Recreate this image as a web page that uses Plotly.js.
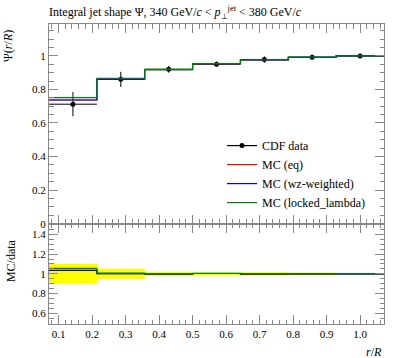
<!DOCTYPE html>
<html>
<head>
<meta charset="utf-8">
<script src="https://cdn.plot.ly/plotly-3.0.1.min.js"></script>
<style>html,body{margin:0;padding:0;background:#fff;}#plot{width:397px;height:358px;}</style>
</head>
<body>
<div id="plot"></div>
<script>
// Bin edges and centres in r/R
const binEdges = [0.0714, 0.2143, 0.3571, 0.5, 0.6429, 0.7857, 0.9286, 1.0714];
const binCenters = [0.1429, 0.2857, 0.4286, 0.5714, 0.7143, 0.8571, 1.0];
// CDF data
const dataPsi = [0.712, 0.860, 0.920, 0.950, 0.978, 0.992, 1.0];
const dataErr = [0.072, 0.045, 0.020, 0.016, 0.019, 0.014, 0.0];
// MC predictions
const mcEq = [0.737, 0.862, 0.918, 0.953, 0.976, 0.991, 1.0];
const mcWz = [0.737, 0.862, 0.918, 0.953, 0.976, 0.991, 1.0];
const mcLocked = [0.751, 0.866, 0.919, 0.954, 0.977, 0.992, 1.0];
// labels
const seriesNames = ["CDF data", "MC (eq)", "MC (wz-weighted)", "MC (locked_lambda)"];
const seriesColors = ["black", "red", "blue", "green"];

const FONT = "Liberation Serif";
const stepY = v => v.concat([v[v.length - 1]]);
const halfW = binCenters.map((c, i) => binEdges[i + 1] - c);

const traces = [];
// ratio band (data uncertainty)
const bandLo = dataPsi.map((d, i) => 1 - dataErr[i] / d);
const bandHi = dataPsi.map((d, i) => 1 + dataErr[i] / d);
traces.push({x: binEdges, y: stepY(bandLo), xaxis: 'x2', yaxis: 'y2', mode: 'lines',
  line: {shape: 'hv', width: 0, color: 'yellow'}, showlegend: false, hoverinfo: 'skip'});
traces.push({x: binEdges, y: stepY(bandHi), xaxis: 'x2', yaxis: 'y2', mode: 'lines', fill: 'tonexty',
  fillcolor: 'rgb(255,255,0)', line: {shape: 'hv', width: 0, color: 'yellow'}, showlegend: false, hoverinfo: 'skip'});

// data points (drawn under the MC lines)
traces.push({x: binCenters, y: dataPsi, mode: 'markers', name: seriesNames[0], showlegend: false,
  marker: {color: 'black', size: 5},
  error_y: {type: 'data', array: dataErr, color: 'black', thickness: 1, width: 0},
  error_x: {type: 'data', array: halfW, color: 'black', thickness: 1, width: 0},
  xaxis: 'x', yaxis: 'y'});
// legend entry for the data (line + dot)
traces.push({x: [null], y: [null], mode: 'lines+markers', name: seriesNames[0],
  line: {color: 'black', width: 1.2}, marker: {color: 'black', size: 5}, xaxis: 'x', yaxis: 'y', hoverinfo: 'skip'});

const mcs = [mcEq, mcWz, mcLocked];
mcs.forEach((mc, k) => {
  traces.push({x: binEdges, y: stepY(mc), mode: 'lines', name: seriesNames[k + 1],
    line: {shape: 'hv', color: seriesColors[k + 1], width: 1.2}, xaxis: 'x', yaxis: 'y'});
});
mcs.forEach((mc, k) => {
  traces.push({x: binEdges, y: stepY(mc.map((v, i) => v / dataPsi[i])), mode: 'lines', showlegend: false,
    line: {shape: 'hv', color: seriesColors[k + 1], width: 1.2}, xaxis: 'x2', yaxis: 'y2'});
});

const axCol = '#888';
const common = {showgrid: false, zeroline: false, showline: true, linecolor: axCol, linewidth: 1,
  mirror: 'allticks', ticks: 'inside', tickcolor: axCol, ticklen: 9, tickwidth: 1,
  tickfont: {family: FONT, size: 11, color: 'black'}};

const layout = {
  width: 397, height: 358,
  margin: {l: 49, r: 13, t: 23.5, b: 34, pad: 0},
  paper_bgcolor: 'white', plot_bgcolor: 'white',
  font: {family: FONT, size: 12, color: 'black'},
  title: {text: 'Integral jet shape Ψ, 340 GeV/<i>c</i> &lt; <i>p</i><sub>⊥</sub><sup>jet</sup> &lt; 380 GeV/<i>c</i>',
    x: 49 / 397, xanchor: 'left', xref: 'container', y: 1 - 12 / 358, yanchor: 'middle', yref: 'container',
    font: {family: FONT, size: 12, color: 'black'}},
  xaxis: Object.assign({}, common, {range: [0.0714, 1.0714], dtick: 0.1, tick0: 0, showticklabels: false,
    anchor: 'y', matches: 'x2', minor: {dtick: 0.02, ticklen: 4.5, ticks: 'inside', tickcolor: axCol}}),
  yaxis: Object.assign({}, common, {domain: [0.3345, 1], range: [0, 1.19], dtick: 0.2, tick0: 0, anchor: 'x',
    minor: {dtick: 0.05, ticklen: 4.5, ticks: 'inside', tickcolor: axCol}}),
  xaxis2: Object.assign({}, common, {range: [0.0714, 1.0714], dtick: 0.1, tick0: 0, tickformat: '.1f', anchor: 'y2',
    minor: {dtick: 0.02, ticklen: 4.5, ticks: 'inside', tickcolor: axCol}}),
  yaxis2: Object.assign({}, common, {domain: [0, 0.3345], range: [0.49, 1.51], dtick: 0.2, tick0: 0, anchor: 'x2',
    minor: {dtick: 0.05, ticklen: 4.5, ticks: 'inside', tickcolor: axCol}}),
  showlegend: true,
  legend: {x: (222 - 49) / 335, xanchor: 'left', y: 0.643, yanchor: 'top', bgcolor: 'rgba(0,0,0,0)',
    traceorder: 'normal', font: {family: FONT, size: 12, color: 'black'}, tracegroupgap: 0},
  annotations: [
    {text: 'Ψ(<i>r</i>/<i>R</i>)', xref: 'paper', yref: 'paper', x: -41 / 335, y: 1 - 4 / 301, xanchor: 'center', yanchor: 'top',
      textangle: -90, showarrow: false, font: {family: FONT, size: 12}},
    {text: 'MC/data', xref: 'paper', yref: 'paper', x: -38 / 335, y: 0.3345 - 14 / 301, xanchor: 'center', yanchor: 'top',
      textangle: -90, showarrow: false, font: {family: FONT, size: 12}},
    {text: '<i>r</i>/<i>R</i>', xref: 'paper', yref: 'paper', x: 1, y: -19 / 301, xanchor: 'right', yanchor: 'top',
      showarrow: false, font: {family: FONT, size: 12}}
  ]
};

Plotly.newPlot('plot', traces, layout, {displayModeBar: false, staticPlot: true});
</script>
</body>
</html>
